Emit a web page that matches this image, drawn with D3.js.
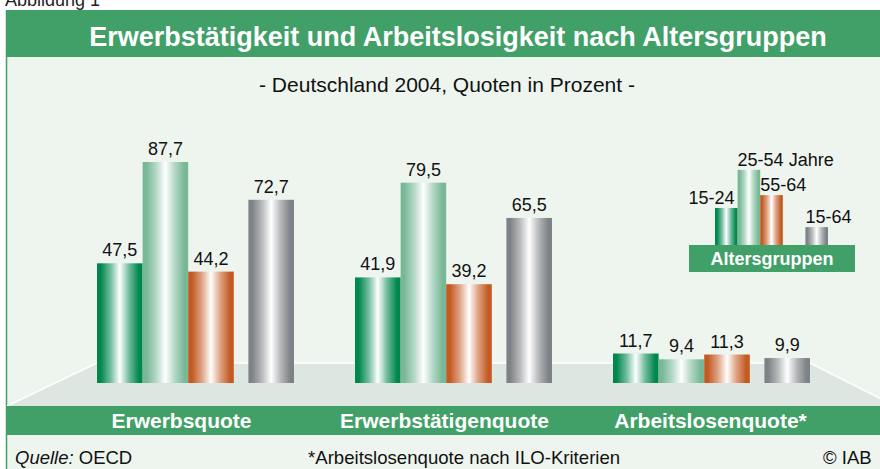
<!DOCTYPE html>
<html><head><meta charset="utf-8">
<script src="https://cdn.jsdelivr.net/npm/d3@7"></script>
<style>
html,body{margin:0;padding:0;background:#fff;}
svg{display:block;font-family:"Liberation Sans",Arial,sans-serif;}
</style></head>
<body>
<svg id="chart" width="880" height="469"></svg>
<script>
const categories = ["Erwerbsquote", "Erwerbstätigenquote", "Arbeitslosenquote*"];
const ageGroups = ["15-24", "25-54", "55-64", "15-64"];
const values1524 = [47.5, 41.9, 11.7];
const values2554 = [87.7, 79.5, 9.4];
const values5564 = [44.2, 39.2, 11.3];
const values1564 = [72.7, 65.5, 9.9];
const legendLabels = ["15-24", "25-54 Jahre", "55-64", "15-64"];
const legendSample = [14.7, 29.8, 19.8, 7.1];

const seriesValues = [values1524, values2554, values5564, values1564];
const edgeColors = ["#00874e", "#78b897", "#c35a22", "#7e8286"];
const GREEN = "#41a068", BG = "#eef5ef", FLOOR = "#dde6e1";

const svg = d3.select("#chart");
const defs = svg.append("defs");
edgeColors.forEach((c, i) => {
  const g = defs.append("linearGradient").attr("id", "grad" + i)
    .attr("x1", "0%").attr("x2", "100%").attr("y1", "0%").attr("y2", "0%");
  [[0, c], [0.08, c], [0.3, d3.interpolateRgb(c, "#ffffff")(0.45)], [0.5, "#ffffff"],
   [0.7, d3.interpolateRgb(c, "#ffffff")(0.45)], [0.92, c], [1, c]].forEach(s =>
    g.append("stop").attr("offset", s[0]).attr("stop-color", s[1]));
});

// frame
svg.append("text").attr("x", 5).attr("y", 6).attr("font-size", 18).attr("fill", "#222").text("Abbildung 1");
svg.append("rect").attr("x", 7).attr("y", 57).attr("width", 873).attr("height", 412).attr("fill", BG);
svg.append("rect").attr("x", 6).attr("y", 10).attr("width", 874).attr("height", 47).attr("fill", GREEN);
svg.append("line").attr("x1", 6.5).attr("x2", 6.5).attr("y1", 10).attr("y2", 469).attr("stroke", GREEN).attr("stroke-width", 1.5);

svg.append("text").attr("x", 458).attr("y", 46).attr("text-anchor", "middle")
  .attr("font-size", 27).attr("font-weight", "bold").attr("fill", "#fff")
  .text("Erwerbstätigkeit und Arbeitslosigkeit nach Altersgruppen");
svg.append("text").attr("x", 447).attr("y", 92).attr("text-anchor", "middle")
  .attr("font-size", 21).attr("fill", "#111")
  .text("- Deutschland 2004, Quoten in Prozent -");

// floor
svg.append("polygon").attr("points", "7,406 97,363 810,363 895,406").attr("fill", FLOOR);
svg.append("polyline").attr("points", "7,406 97,363 810,363 895,406")
  .attr("fill", "none").attr("stroke", "#fff").attr("stroke-width", 1.5);

// scales
const x0 = d3.scaleBand().domain(categories).range([97, 810]).paddingInner(61 / 258).paddingOuter(0);
const gapRatio = 0.32;
const barW = x0.bandwidth() / (4 + gapRatio);
const x1 = d3.scaleOrdinal().domain(ageGroups)
  .range(ageGroups.map((d, i) => i * barW + (i === 3 ? gapRatio * barW : 0)));
const y = d3.scaleLinear().domain([0, 100]).range([383, 131]);

const loc = d3.formatLocale({decimal: ",", thousands: ".", grouping: [3], currency: ["", "€"]});
const fmt = loc.format(".1f");

const data = [];
categories.forEach((c, ci) => ageGroups.forEach((a, ai) =>
  data.push({cat: c, age: a, ai: ai, v: seriesValues[ai][ci]})));

const bars = svg.append("g");
bars.selectAll("rect").data(data).join("rect")
  .attr("x", d => x0(d.cat) + x1(d.age))
  .attr("y", d => y(d.v))
  .attr("width", barW)
  .attr("height", d => y(0) - y(d.v))
  .attr("fill", d => "url(#grad" + d.ai + ")");
bars.selectAll("text").data(data).join("text")
  .attr("x", d => x0(d.cat) + x1(d.age) + barW / 2)
  .attr("y", d => y(d.v) - 7)
  .attr("text-anchor", "middle").attr("font-size", 18).attr("fill", "#111")
  .text(d => fmt(d.v));

// bottom band
svg.append("rect").attr("x", 7).attr("y", 406).attr("width", 873).attr("height", 29).attr("fill", GREEN);
const labelShift = [-14, -9, -1];
svg.append("g").selectAll("text").data(categories).join("text")
  .attr("x", (d, i) => x0(d) + x0.bandwidth() / 2 + labelShift[i])
  .attr("y", 428).attr("text-anchor", "middle")
  .attr("font-size", 21).attr("font-weight", "bold").attr("fill", "#fff")
  .text(d => d);

// legend
const lx = d3.scaleBand().domain(d3.range(5)).range([715, 828]);
const slot = [0, 1, 2, 4];
const ly = d3.scaleLinear().domain([0, 100]).range([245, -7]);
const lg = svg.append("g");
lg.selectAll("rect.lb").data(legendSample).join("rect").attr("class", "lb")
  .attr("x", (d, i) => lx(slot[i])).attr("y", d => ly(d))
  .attr("width", lx.bandwidth()).attr("height", d => ly(0) - ly(d))
  .attr("fill", (d, i) => "url(#grad" + i + ")");
lg.selectAll("text.ll").data(legendLabels).join("text").attr("class", "ll")
  .attr("x", (d, i) => i === 0 ? lx(slot[i]) + lx.bandwidth() - 3 : lx(slot[i]))
  .attr("y", (d, i) => ly(legendSample[i]) - 4)
  .attr("text-anchor", (d, i) => i === 0 ? "end" : "start")
  .attr("font-size", 18).attr("fill", "#111").text(d => d);
lg.append("rect").attr("x", 689).attr("y", 245).attr("width", 166).attr("height", 27).attr("fill", GREEN);
lg.append("text").attr("x", 772).attr("y", 265).attr("text-anchor", "middle")
  .attr("font-size", 18).attr("font-weight", "bold").attr("fill", "#fff").text("Altersgruppen");

// footer
const ft = svg.append("text").attr("x", 15).attr("y", 464).attr("font-size", 18.5).attr("fill", "#111");
ft.append("tspan").attr("font-style", "italic").text("Quelle:");
ft.append("tspan").text(" OECD");
svg.append("text").attr("x", 308).attr("y", 464).attr("font-size", 18.6).attr("fill", "#111")
  .text("*Arbeitslosenquote nach ILO-Kriterien");
svg.append("text").attr("x", 823).attr("y", 464).attr("font-size", 18.5).attr("fill", "#111").text("© IAB");
</script>
</body></html>
